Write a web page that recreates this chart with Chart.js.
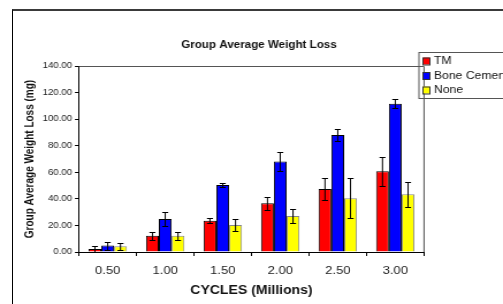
<!DOCTYPE html>
<html>
<head>
<meta charset="utf-8">
<script src="https://cdn.jsdelivr.net/npm/chart.js@4/dist/chart.umd.min.js"></script>
<style>
  html, body { margin: 0; padding: 0; background: #fff; overflow: hidden; }
  #wrap { position: relative; width: 503px; height: 304px; overflow: hidden; }
  /* the reference is a little stretched sideways: draw narrower, then widen */
  #Chart1 { transform: scaleX(1.151); transform-origin: 0 0; }
  #frame {
    position: absolute; left: 12px; top: 9px; width: 495px; height: 300px;
    border-top: 2px solid #3a3a3a; border-left: 1px solid #000;
    pointer-events: none;
  }
</style>
</head>
<body>
<div id="wrap">
  <canvas id="Chart1" width="437" height="304"></canvas>
  <div id="frame"></div>
</div>
<script>
const cycles = ["0.50", "1.00", "1.50", "2.00", "2.50", "3.00"];

const tmLoss = [2.3, 12.3, 23.6, 36.6, 47.4, 60.7];
const tmErr = [2.0, 3.0, 2.0, 5.0, 8.5, 11.0];

const boneLoss = [4.8, 24.8, 50.4, 68.2, 88.1, 111.6];
const boneErr = [3.0, 5.6, 1.2, 6.9, 4.4, 3.5];

const noneLoss = [4.3, 12.3, 20.3, 27.1, 40.4, 43.4];
const noneErr = [2.5, 3.0, 4.4, 5.5, 15.0, 9.3];

const FONT = "'Liberation Sans', Arial, sans-serif";

// error bars drawn through the y scale
const errorBars = {
  id: "errorBars",
  afterDatasetsDraw(chart) {
    const ctx = chart.ctx;
    const y = chart.scales.y;
    ctx.save();
    ctx.strokeStyle = "#000";
    ctx.lineWidth = 1;
    chart.data.datasets.forEach((ds, i) => {
      const meta = chart.getDatasetMeta(i);
      meta.data.forEach((bar, j) => {
        const v = ds.data[j];
        const e = ds.errors[j];
        const x = bar.x;
        const top = Math.round(y.getPixelForValue(v + e)) + 0.5;
        const bot = Math.round(y.getPixelForValue(v - e)) + 0.5;
        ctx.beginPath();
        ctx.moveTo(x, top);
        ctx.lineTo(x, bot);
        ctx.moveTo(x - 2.6, top);
        ctx.lineTo(x + 2.6, top);
        ctx.moveTo(x - 2.6, bot);
        ctx.lineTo(x + 2.6, bot);
        ctx.stroke();
      });
    });
    ctx.restore();
  }
};

// top/right plot frame, chart title and boxed legend
const decor = {
  id: "decor",
  afterDraw(chart) {
    const ctx = chart.ctx;
    const a = chart.chartArea;
    ctx.save();

    ctx.strokeStyle = "#555";
    ctx.lineWidth = 1;
    ctx.beginPath();
    ctx.moveTo(a.left, Math.round(a.top) + 0.5);
    ctx.lineTo(a.right, Math.round(a.top) + 0.5);
    ctx.lineTo(a.right, a.bottom);
    ctx.stroke();

    ctx.fillStyle = "#111";
    ctx.font = "bold 10.1px " + FONT;
    ctx.textAlign = "center";
    ctx.textBaseline = "middle";
    ctx.fillText("Group Average Weight Loss", 225, 45);

    // legend
    ctx.strokeStyle = "#555";
    ctx.strokeRect(364, 52.5, 90, 46);
    ctx.font = "10.6px " + FONT;
    ctx.textAlign = "left";
    chart.data.datasets.forEach((ds, i) => {
      const cy = 61 + i * 14.5;
      ctx.fillStyle = ds.backgroundColor;
      ctx.fillRect(367.5, cy - 3.5, 6, 7);
      ctx.strokeStyle = "#333";
      ctx.strokeRect(367.5, cy - 3, 6, 7);
      ctx.fillStyle = "#111";
      ctx.fillText(ds.label, 377, cy + 0.5);
    });
    ctx.restore();
  }
};

const chart1 = new Chart(document.getElementById("Chart1").getContext("2d"), {
  type: "bar",
  data: {
    labels: cycles,
    datasets: [
      {
        label: "TM",
        data: tmLoss,
        errors: tmErr,
        backgroundColor: "#ff0000",
        borderColor: "#000",
        borderWidth: 1
      },
      {
        label: "Bone Cement",
        data: boneLoss,
        errors: boneErr,
        backgroundColor: "#0000ff",
        borderColor: "#000",
        borderWidth: 1
      },
      {
        label: "None",
        data: noneLoss,
        errors: noneErr,
        backgroundColor: "#ffff00",
        borderColor: "#888",
        borderWidth: 1
      }
    ]
  },
  options: {
    responsive: false,
    animation: false,
    layout: {
      padding: { top: 66, right: 68.6, bottom: 0, left: 0 }
    },
    datasets: {
      bar: {
        categoryPercentage: 0.667,
        barPercentage: 1
      }
    },
    plugins: {
      legend: { display: false },
      tooltip: { enabled: false }
    },
    scales: {
      x: {
        afterFit: function(scale) {
          scale.height = 52;
        },
        grid: {
          drawOnChartArea: false,
          tickLength: 4,
          color: "#000"
        },
        border: { color: "#000" },
        ticks: {
          padding: 8.5,
          color: "#222",
          font: { family: FONT, size: 11.3 }
        },
        title: {
          display: true,
          text: "CYCLES (Millions)",
          color: "#111",
          padding: { top: 0, bottom: 5.7 },
          font: { family: FONT, size: 12.2, weight: "bold" }
        }
      },
      y: {
        min: 0,
        max: 140,
        afterFit: function(scale) {
          scale.width = 68.6;
        },
        grid: {
          drawOnChartArea: false,
          tickLength: 3.5,
          color: "#000"
        },
        border: { color: "#000" },
        ticks: {
          stepSize: 20,
          padding: 2.5,
          color: "#222",
          font: { family: FONT, size: 8.4 },
          callback: function(value) {
            return value.toFixed(2);
          }
        },
        title: {
          display: true,
          text: "Group Average Weight Loss (mg)",
          color: "#111",
          padding: { top: 20, bottom: 0 },
          font: { family: FONT, size: 10, weight: "bold" }
        }
      }
    }
  },
  plugins: [errorBars, decor]
});
</script>
</body>
</html>
